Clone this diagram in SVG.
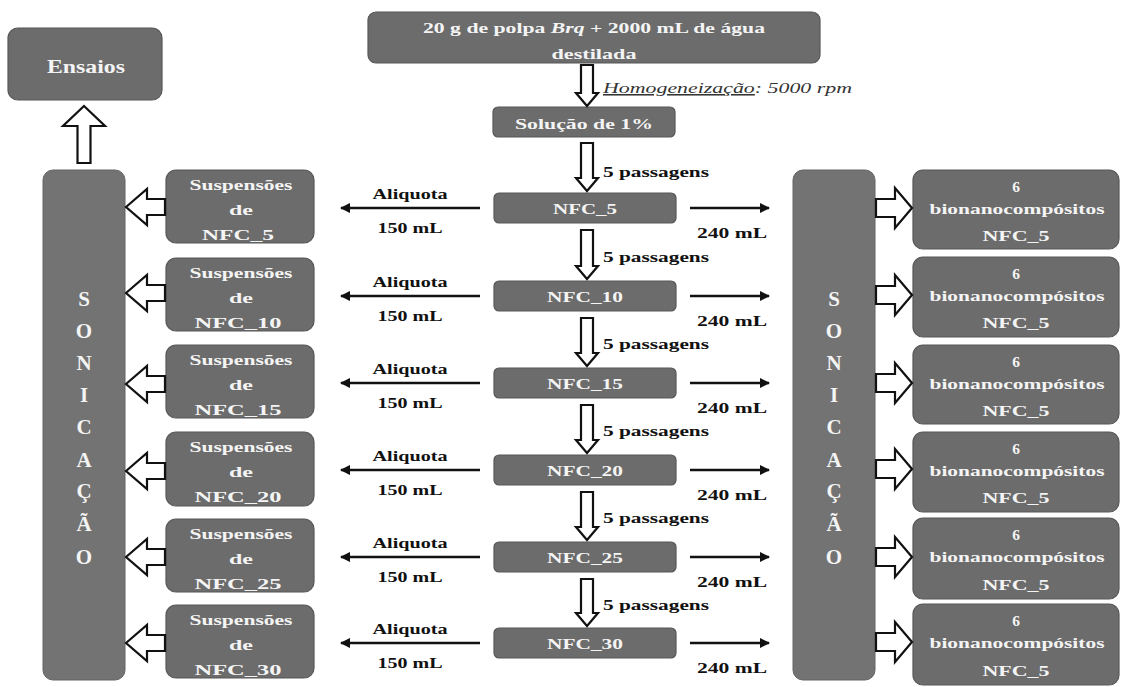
<svg xmlns="http://www.w3.org/2000/svg" width="1121" height="687" viewBox="0 0 1121 687">
<style>
.box{fill:#6c6c6c;stroke:#575757;stroke-width:1.2}
.bar{fill:#737373;stroke:#646464;stroke-width:1}
.wt{fill:#f4f4f4;font-family:'Liberation Serif','Times New Roman',Tinos,serif;font-weight:bold;font-size:15.5px;text-anchor:middle}
.let{fill:#f4f4f4;font-family:'Liberation Serif','Times New Roman',Tinos,serif;font-weight:bold;font-size:21px;text-anchor:middle}
.bt{fill:#111;font-family:'Liberation Serif','Times New Roman',Tinos,serif;font-weight:bold;font-size:15.5px;text-anchor:middle}
.pt{fill:#111;font-family:'Liberation Serif','Times New Roman',Tinos,serif;font-weight:bold;font-size:15.5px}
.it{fill:#333;font-family:'Liberation Serif','Times New Roman',Tinos,serif;font-style:italic;font-size:15.5px}
.big{font-size:18px}
.hol{fill:#fff;stroke:#111;stroke-width:2.2;stroke-linejoin:miter}
.thin{stroke:#111;stroke-width:2.6;fill:none}
</style>
<defs>
<marker id="ah" viewBox="0 0 10 10" refX="9" refY="5" markerWidth="4" markerHeight="4" orient="auto" markerUnits="strokeWidth">
<path d="M0,0 L10,5 L0,10 z" fill="#111"/>
</marker>
</defs>
<rect width="1121" height="687" fill="#fff"/>

<!-- Nodes -->
<g id="n-top"><rect class="box" x="368" y="12" width="452" height="51" rx="8"/>
<text class="wt" x="594" y="33" textLength="342" lengthAdjust="spacingAndGlyphs">20 g de polpa <tspan font-style="italic">Brq</tspan> + 2000 mL de água</text>
<text class="wt" x="594" y="59" textLength="85" lengthAdjust="spacingAndGlyphs">destilada</text></g>

<g id="n-ensaios"><rect class="box" x="8" y="28" width="154" height="72" rx="10"/>
<text class="wt big" x="86" y="73" textLength="78" lengthAdjust="spacingAndGlyphs">Ensaios</text></g>

<g id="n-sol"><rect class="box" x="493" y="107" width="182" height="30" rx="5"/>
<text class="wt" x="584" y="129" textLength="138" lengthAdjust="spacingAndGlyphs">Solução de 1%</text></g>

<g id="n-nfc5"><rect class="box" x="494" y="193" width="182" height="30" rx="5"/><text class="wt" x="585" y="214" textLength="64" lengthAdjust="spacingAndGlyphs">NFC_5</text></g>
<g id="n-nfc10"><rect class="box" x="494" y="281" width="182" height="30" rx="5"/><text class="wt" x="585" y="302" textLength="76" lengthAdjust="spacingAndGlyphs">NFC_10</text></g>
<g id="n-nfc15"><rect class="box" x="494" y="368" width="182" height="30" rx="5"/><text class="wt" x="585" y="389" textLength="76" lengthAdjust="spacingAndGlyphs">NFC_15</text></g>
<g id="n-nfc20"><rect class="box" x="494" y="455" width="182" height="30" rx="5"/><text class="wt" x="585" y="476" textLength="76" lengthAdjust="spacingAndGlyphs">NFC_20</text></g>
<g id="n-nfc25"><rect class="box" x="494" y="542" width="182" height="30" rx="5"/><text class="wt" x="585" y="563" textLength="76" lengthAdjust="spacingAndGlyphs">NFC_25</text></g>
<g id="n-nfc30"><rect class="box" x="494" y="628" width="182" height="30" rx="5"/><text class="wt" x="585" y="649" textLength="76" lengthAdjust="spacingAndGlyphs">NFC_30</text></g>

<g id="n-susp5"><rect class="box" x="166" y="170" width="148" height="73" rx="10"/>
<text class="wt" x="241" y="190" textLength="103" lengthAdjust="spacingAndGlyphs">Suspensões</text><text class="wt" x="241" y="215" textLength="24" lengthAdjust="spacingAndGlyphs">de</text><text class="wt" x="238" y="240" textLength="72" lengthAdjust="spacingAndGlyphs">NFC_5</text></g>
<g id="n-susp10"><rect class="box" x="166" y="258" width="148" height="73" rx="10"/>
<text class="wt" x="241" y="278" textLength="103" lengthAdjust="spacingAndGlyphs">Suspensões</text><text class="wt" x="241" y="303" textLength="24" lengthAdjust="spacingAndGlyphs">de</text><text class="wt" x="238" y="328" textLength="87" lengthAdjust="spacingAndGlyphs">NFC_10</text></g>
<g id="n-susp15"><rect class="box" x="166" y="345" width="148" height="73" rx="10"/>
<text class="wt" x="241" y="365" textLength="103" lengthAdjust="spacingAndGlyphs">Suspensões</text><text class="wt" x="241" y="390" textLength="24" lengthAdjust="spacingAndGlyphs">de</text><text class="wt" x="238" y="415" textLength="87" lengthAdjust="spacingAndGlyphs">NFC_15</text></g>
<g id="n-susp20"><rect class="box" x="166" y="432" width="148" height="74" rx="10"/>
<text class="wt" x="241" y="452" textLength="103" lengthAdjust="spacingAndGlyphs">Suspensões</text><text class="wt" x="241" y="477" textLength="24" lengthAdjust="spacingAndGlyphs">de</text><text class="wt" x="238" y="502" textLength="87" lengthAdjust="spacingAndGlyphs">NFC_20</text></g>
<g id="n-susp25"><rect class="box" x="166" y="519" width="148" height="73" rx="10"/>
<text class="wt" x="241" y="539" textLength="103" lengthAdjust="spacingAndGlyphs">Suspensões</text><text class="wt" x="241" y="564" textLength="24" lengthAdjust="spacingAndGlyphs">de</text><text class="wt" x="238" y="589" textLength="87" lengthAdjust="spacingAndGlyphs">NFC_25</text></g>
<g id="n-susp30"><rect class="box" x="166" y="605" width="148" height="73" rx="10"/>
<text class="wt" x="241" y="625" textLength="103" lengthAdjust="spacingAndGlyphs">Suspensões</text><text class="wt" x="241" y="650" textLength="24" lengthAdjust="spacingAndGlyphs">de</text><text class="wt" x="238" y="675" textLength="87" lengthAdjust="spacingAndGlyphs">NFC_30</text></g>

<g id="n-son-left"><rect class="bar" x="43" y="170" width="82" height="510" rx="10"/>
<text class="let" x="84" y="306">S</text><text class="let" x="84" y="338">O</text><text class="let" x="84" y="370">N</text><text class="let" x="84" y="402">I</text><text class="let" x="84" y="434">C</text><text class="let" x="84" y="467">A</text><text class="let" x="84" y="498">Ç</text><text class="let" x="84" y="531">Ã</text><text class="let" x="84" y="564">O</text></g>

<g id="n-son-right"><rect class="bar" x="793" y="170" width="82" height="510" rx="10"/>
<text class="let" x="834" y="306">S</text><text class="let" x="834" y="338">O</text><text class="let" x="834" y="370">N</text><text class="let" x="834" y="402">I</text><text class="let" x="834" y="434">C</text><text class="let" x="834" y="467">A</text><text class="let" x="834" y="498">Ç</text><text class="let" x="834" y="531">Ã</text><text class="let" x="834" y="564">O</text></g>

<g id="n-bio1"><rect class="box" x="913" y="170" width="206" height="79" rx="10"/>
<text class="wt" x="1016" y="192">6</text><text class="wt" x="1017" y="214" textLength="175" lengthAdjust="spacingAndGlyphs">bionanocompósitos</text><text class="wt" x="1016" y="241" textLength="67" lengthAdjust="spacingAndGlyphs">NFC_5</text></g>
<g id="n-bio2"><rect class="box" x="913" y="257" width="206" height="80" rx="10"/>
<text class="wt" x="1016" y="279">6</text><text class="wt" x="1017" y="301" textLength="175" lengthAdjust="spacingAndGlyphs">bionanocompósitos</text><text class="wt" x="1016" y="328" textLength="67" lengthAdjust="spacingAndGlyphs">NFC_5</text></g>
<g id="n-bio3"><rect class="box" x="913" y="345" width="206" height="79" rx="10"/>
<text class="wt" x="1016" y="367">6</text><text class="wt" x="1017" y="389" textLength="175" lengthAdjust="spacingAndGlyphs">bionanocompósitos</text><text class="wt" x="1016" y="416" textLength="67" lengthAdjust="spacingAndGlyphs">NFC_5</text></g>
<g id="n-bio4"><rect class="box" x="913" y="432" width="206" height="80" rx="10"/>
<text class="wt" x="1016" y="454">6</text><text class="wt" x="1017" y="476" textLength="175" lengthAdjust="spacingAndGlyphs">bionanocompósitos</text><text class="wt" x="1016" y="503" textLength="67" lengthAdjust="spacingAndGlyphs">NFC_5</text></g>
<g id="n-bio5"><rect class="box" x="913" y="518" width="206" height="81" rx="10"/>
<text class="wt" x="1016" y="540">6</text><text class="wt" x="1017" y="562" textLength="175" lengthAdjust="spacingAndGlyphs">bionanocompósitos</text><text class="wt" x="1016" y="590" textLength="67" lengthAdjust="spacingAndGlyphs">NFC_5</text></g>
<g id="n-bio6"><rect class="box" x="913" y="604" width="206" height="81" rx="10"/>
<text class="wt" x="1016" y="626">6</text><text class="wt" x="1017" y="648" textLength="175" lengthAdjust="spacingAndGlyphs">bionanocompósitos</text><text class="wt" x="1016" y="676" textLength="67" lengthAdjust="spacingAndGlyphs">NFC_5</text></g>

<!-- Connectors -->
<g id="connectors">
<polygon class="hol" points="581,65 593,65 593,93 598,93 587,106 576,93 581,93"/>
<polygon class="hol" points="581,143 593,143 593,178 598,178 587,191 576,178 581,178"/>
<polygon class="hol" points="581,230 593,230 593,266 598,266 587,279 576,266 581,266"/>
<polygon class="hol" points="581,318 593,318 593,353 598,353 587,366 576,353 581,353"/>
<polygon class="hol" points="581,405 593,405 593,440 598,440 587,453 576,440 581,440"/>
<polygon class="hol" points="581,492 593,492 593,527 598,527 587,540 576,527 581,527"/>
<polygon class="hol" points="581,579 593,579 593,613 598,613 587,626 576,613 581,613"/>

<polygon class="hol" points="84,106 105,126 90.5,126 90.5,163 77.5,163 77.5,126 63,126"/>

<polygon class="hol" points="126,207 147,189 147,199 165,199 165,215 147,215 147,225"/>
<polygon class="hol" points="126,293 147,275 147,285 165,285 165,301 147,301 147,311"/>
<polygon class="hol" points="126,384 147,366 147,376 165,376 165,392 147,392 147,402"/>
<polygon class="hol" points="126,471 147,453 147,463 165,463 165,479 147,479 147,489"/>
<polygon class="hol" points="126,557 147,539 147,549 165,549 165,565 147,565 147,575"/>
<polygon class="hol" points="126,643 147,625 147,635 165,635 165,651 147,651 147,661"/>

<polygon class="hol" points="912,208 895,188 895,199 876,199 876,217 895,217 895,228"/>
<polygon class="hol" points="912,295 895,275 895,286 876,286 876,304 895,304 895,315"/>
<polygon class="hol" points="912,383 895,363 895,374 876,374 876,392 895,392 895,403"/>
<polygon class="hol" points="912,469 895,449 895,460 876,460 876,478 895,478 895,489"/>
<polygon class="hol" points="912,557 895,537 895,548 876,548 876,566 895,566 895,577"/>
<polygon class="hol" points="912,642 895,622 895,633 876,633 876,651 895,651 895,662"/>

<line class="thin" x1="480" y1="208" x2="341" y2="208" marker-end="url(#ah)"/>
<line class="thin" x1="480" y1="296" x2="341" y2="296" marker-end="url(#ah)"/>
<line class="thin" x1="480" y1="383" x2="341" y2="383" marker-end="url(#ah)"/>
<line class="thin" x1="480" y1="470" x2="341" y2="470" marker-end="url(#ah)"/>
<line class="thin" x1="480" y1="557" x2="341" y2="557" marker-end="url(#ah)"/>
<line class="thin" x1="480" y1="643" x2="341" y2="643" marker-end="url(#ah)"/>

<line class="thin" x1="690" y1="208" x2="769" y2="208" marker-end="url(#ah)"/>
<line class="thin" x1="690" y1="296" x2="769" y2="296" marker-end="url(#ah)"/>
<line class="thin" x1="690" y1="383" x2="769" y2="383" marker-end="url(#ah)"/>
<line class="thin" x1="690" y1="470" x2="769" y2="470" marker-end="url(#ah)"/>
<line class="thin" x1="690" y1="557" x2="769" y2="557" marker-end="url(#ah)"/>
<line class="thin" x1="690" y1="643" x2="769" y2="643" marker-end="url(#ah)"/>
</g>

<!-- Labels -->
<g id="labels">
<text class="it" x="603" y="93" textLength="249" lengthAdjust="spacingAndGlyphs"><tspan text-decoration="underline">Homogeneização</tspan>: 5000 rpm</text>
<text class="pt" x="603" y="177" textLength="106" lengthAdjust="spacingAndGlyphs">5 passagens</text>
<text class="pt" x="603" y="262" textLength="106" lengthAdjust="spacingAndGlyphs">5 passagens</text>
<text class="pt" x="603" y="349" textLength="106" lengthAdjust="spacingAndGlyphs">5 passagens</text>
<text class="pt" x="603" y="436" textLength="106" lengthAdjust="spacingAndGlyphs">5 passagens</text>
<text class="pt" x="603" y="523" textLength="106" lengthAdjust="spacingAndGlyphs">5 passagens</text>
<text class="pt" x="603" y="610" textLength="106" lengthAdjust="spacingAndGlyphs">5 passagens</text>

<text class="bt" x="410" y="199" textLength="75" lengthAdjust="spacingAndGlyphs">Aliquota</text><text class="bt" x="410" y="233" textLength="65" lengthAdjust="spacingAndGlyphs">150 mL</text>
<text class="bt" x="410" y="287" textLength="75" lengthAdjust="spacingAndGlyphs">Aliquota</text><text class="bt" x="410" y="321" textLength="65" lengthAdjust="spacingAndGlyphs">150 mL</text>
<text class="bt" x="410" y="374" textLength="75" lengthAdjust="spacingAndGlyphs">Aliquota</text><text class="bt" x="410" y="408" textLength="65" lengthAdjust="spacingAndGlyphs">150 mL</text>
<text class="bt" x="410" y="461" textLength="75" lengthAdjust="spacingAndGlyphs">Aliquota</text><text class="bt" x="410" y="495" textLength="65" lengthAdjust="spacingAndGlyphs">150 mL</text>
<text class="bt" x="410" y="548" textLength="75" lengthAdjust="spacingAndGlyphs">Aliquota</text><text class="bt" x="410" y="582" textLength="65" lengthAdjust="spacingAndGlyphs">150 mL</text>
<text class="bt" x="410" y="634" textLength="75" lengthAdjust="spacingAndGlyphs">Aliquota</text><text class="bt" x="410" y="668" textLength="65" lengthAdjust="spacingAndGlyphs">150 mL</text>

<text class="bt" x="732" y="238" textLength="70" lengthAdjust="spacingAndGlyphs">240 mL</text>
<text class="bt" x="732" y="326" textLength="70" lengthAdjust="spacingAndGlyphs">240 mL</text>
<text class="bt" x="732" y="413" textLength="70" lengthAdjust="spacingAndGlyphs">240 mL</text>
<text class="bt" x="732" y="500" textLength="70" lengthAdjust="spacingAndGlyphs">240 mL</text>
<text class="bt" x="732" y="587" textLength="70" lengthAdjust="spacingAndGlyphs">240 mL</text>
<text class="bt" x="732" y="673" textLength="70" lengthAdjust="spacingAndGlyphs">240 mL</text>
</g>
</svg>
